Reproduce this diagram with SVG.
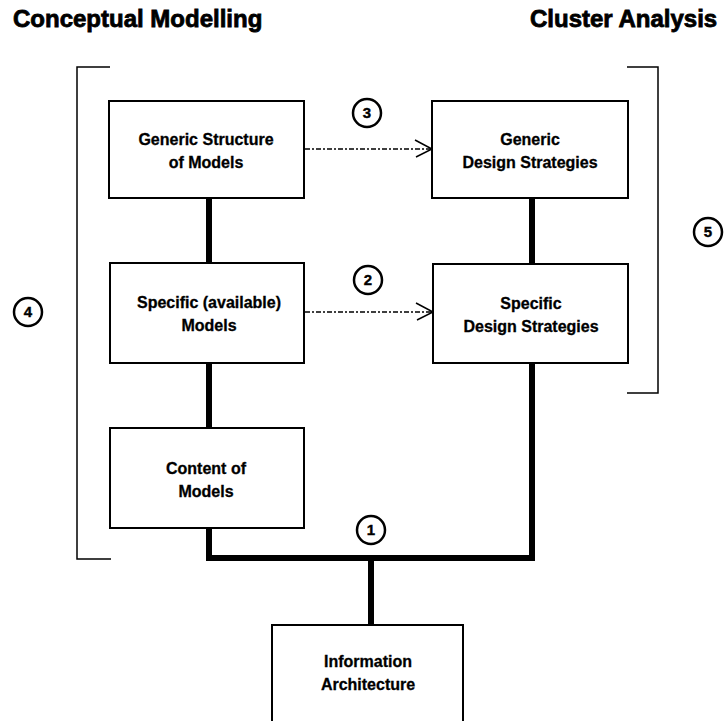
<svg xmlns="http://www.w3.org/2000/svg" width="728" height="721" viewBox="0 0 728 721">
<style>
  .box { fill: #fff; stroke: #000; stroke-width: 2; }
  .lbl { font-family: "Liberation Sans", Arial, sans-serif; font-weight: bold; font-size: 16px; text-anchor: middle; fill: #000; stroke: #000; stroke-width: 0.3; }
  .title { font-family: "Liberation Sans", Arial, sans-serif; font-weight: bold; font-size: 24px; fill: #000; stroke: #000; stroke-width: 0.8; }
  .thick { stroke: #000; stroke-width: 6; fill: none; }
  .dash { stroke: #000; stroke-width: 1.5; fill: none; stroke-dasharray: 5 2 2 2; }
  .head { stroke: #000; stroke-width: 1.5; fill: none; }
  .brk { stroke: #000; stroke-width: 1.5; fill: none; }
  .circ { fill: #fff; stroke: #000; stroke-width: 2.5; }
  .num { font-family: "Liberation Sans", Arial, sans-serif; font-weight: bold; font-size: 15px; text-anchor: middle; fill: #000; stroke: #000; stroke-width: 0.4; }
</style>
<rect width="728" height="721" fill="#fff"/>
<text class="title" x="13" y="27">Conceptual Modelling</text>
<text class="title" x="530" y="27">Cluster Analysis</text>
<g id="brackets">
  <polyline class="brk" points="110,67 77,67 77,559 111,559"/>
  <polyline class="brk" points="627,67 658,67 658,393 627,393"/>
</g>
<g id="connectors">
  <line class="thick" x1="209" y1="198" x2="209" y2="263"/>
  <line class="thick" x1="209" y1="363" x2="209" y2="428"/>
  <polyline class="thick" points="209,528 209,558 532,558 532,198"/>
  <line class="thick" x1="371" y1="558" x2="371" y2="625"/>
  <line class="dash" x1="305" y1="149" x2="430" y2="149"/>
  <polyline class="head" points="415,140 432,149 416,157"/>
  <line class="dash" x1="305" y1="312" x2="431" y2="312"/>
  <polyline class="head" points="416,303 433,312 417,320"/>
</g>
<g id="n-generic-structure">
  <rect class="box" x="109" y="101" width="195" height="97"/>
  <text class="lbl" x="206" y="145">Generic Structure</text>
  <text class="lbl" x="206" y="168">of Models</text>
</g>
<g id="n-generic-design">
  <rect class="box" x="432" y="101" width="196" height="97"/>
  <text class="lbl" x="530" y="145">Generic</text>
  <text class="lbl" x="530" y="168">Design Strategies</text>
</g>
<g id="n-specific-models">
  <rect class="box" x="110" y="263" width="194" height="100"/>
  <text class="lbl" x="209" y="308">Specific (available)</text>
  <text class="lbl" x="209" y="331">Models</text>
</g>
<g id="n-specific-design">
  <rect class="box" x="433" y="264" width="195" height="99"/>
  <text class="lbl" x="531" y="309">Specific</text>
  <text class="lbl" x="531" y="332">Design Strategies</text>
</g>
<g id="n-content">
  <rect class="box" x="110" y="428" width="194" height="100"/>
  <text class="lbl" x="206" y="474">Content of</text>
  <text class="lbl" x="206" y="497">Models</text>
</g>
<g id="n-info">
  <rect class="box" x="272" y="625" width="191" height="110"/>
  <text class="lbl" x="368" y="667">Information</text>
  <text class="lbl" x="368" y="690">Architecture</text>
</g>
<g id="markers">
  <circle class="circ" cx="371" cy="530" r="14"/><text class="num" x="371" y="535">1</text>
  <circle class="circ" cx="368" cy="280" r="14"/><text class="num" x="368" y="285">2</text>
  <circle class="circ" cx="367" cy="113" r="14"/><text class="num" x="367" y="118">3</text>
  <circle class="circ" cx="28" cy="312" r="14"/><text class="num" x="28" y="317">4</text>
  <circle class="circ" cx="708" cy="232" r="14"/><text class="num" x="708" y="237">5</text>
</g>
</svg>
